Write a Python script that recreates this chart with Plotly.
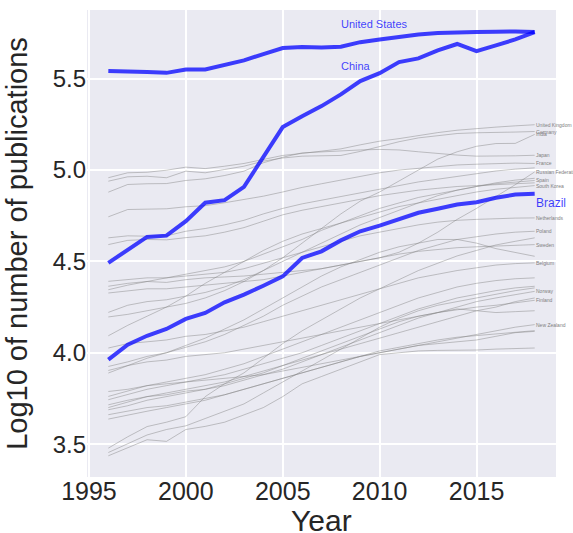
import plotly.graph_objects as go

years = list(range(1996, 2019))

united_states = [5.542, 5.542, 5.537, 5.532, 5.550, 5.550, 5.575, 5.600, 5.635, 5.668, 5.673, 5.671,
                 5.675, 5.700, 5.715, 5.730, 5.742, 5.750, 5.755, 5.755, 5.757, 5.759, 5.755]
china = [4.492, 4.565, 4.634, 4.641, 4.720, 4.821, 4.835, 4.908, 5.067, 5.235, 5.295, 5.350,
         5.414, 5.487, 5.530, 5.591, 5.611, 5.655, 5.690, 5.651, 5.682, 5.715, 5.755]
brazil = [3.962, 4.044, 4.093, 4.130, 4.185, 4.218, 4.276, 4.318, 4.367, 4.418, 4.519, 4.555,
          4.615, 4.665, 4.696, 4.729, 4.766, 4.788, 4.811, 4.824, 4.848, 4.866, 4.870]

united_kingdom = [4.958, 4.985, 4.988, 4.999, 5.016, 5.008, 5.021, 5.036, 5.058, 5.080, 5.091, 5.102,
                  5.116, 5.138, 5.158, 5.172, 5.189, 5.205, 5.218, 5.228, 5.235, 5.242, 5.248]
germany = [4.939, 4.963, 4.966, 4.958, 4.994, 4.985, 5.003, 5.021, 5.049, 5.066, 5.076, 5.078,
           5.080, 5.102, 5.130, 5.155, 5.176, 5.190, 5.200, 5.204, 5.204, 5.208, 5.211]
india = [4.196, 4.210, 4.230, 4.250, 4.270, 4.300, 4.340, 4.390, 4.450, 4.520, 4.600, 4.680,
         4.760, 4.830, 4.880, 4.940, 5.000, 5.060, 5.100, 5.130, 5.145, 5.146, 5.195]
japan = [4.879, 4.921, 4.925, 4.926, 4.943, 4.952, 4.970, 4.994, 5.040, 5.070, 5.094, 5.100,
         5.105, 5.110, 5.113, 5.110, 5.100, 5.090, 5.082, 5.076, 5.075, 5.078, 5.081]
france = [4.744, 4.784, 4.786, 4.788, 4.799, 4.805, 4.821, 4.838, 4.857, 4.880, 4.905, 4.925,
          4.945, 4.965, 4.985, 5.000, 5.010, 5.020, 5.028, 5.032, 5.036, 5.038, 5.036]
italy = [4.629, 4.640, 4.638, 4.640, 4.665, 4.680, 4.700, 4.725, 4.760, 4.790, 4.815, 4.835,
         4.855, 4.875, 4.895, 4.915, 4.935, 4.950, 4.965, 4.980, 4.995, 5.005, 5.012]
canada = [4.592, 4.615, 4.620, 4.618, 4.630, 4.640, 4.660, 4.685, 4.720, 4.755, 4.780, 4.800,
          4.820, 4.840, 4.860, 4.875, 4.890, 4.900, 4.910, 4.915, 4.920, 4.925, 4.930]
russian_federation = [4.364, 4.380, 4.390, 4.385, 4.400, 4.410, 4.415, 4.420, 4.430, 4.440, 4.450, 4.460,
                      4.480, 4.500, 4.520, 4.550, 4.600, 4.660, 4.730, 4.790, 4.855, 4.920, 4.990]
spain = [4.345, 4.370, 4.390, 4.410, 4.430, 4.450, 4.470, 4.500, 4.540, 4.580, 4.620, 4.670,
         4.710, 4.750, 4.790, 4.820, 4.850, 4.870, 4.890, 4.910, 4.925, 4.935, 4.943]
australia = [4.221, 4.260, 4.280, 4.290, 4.310, 4.330, 4.360, 4.400, 4.450, 4.500, 4.550, 4.600,
             4.650, 4.700, 4.740, 4.780, 4.820, 4.860, 4.890, 4.910, 4.930, 4.945, 4.955]
south_korea = [4.093, 4.150, 4.200, 4.250, 4.310, 4.380, 4.440, 4.500, 4.560, 4.610, 4.650, 4.680,
               4.710, 4.740, 4.770, 4.800, 4.820, 4.840, 4.860, 4.880, 4.895, 4.905, 4.915]
netherlands = [4.391, 4.400, 4.410, 4.410, 4.420, 4.430, 4.440, 4.460, 4.490, 4.520, 4.550, 4.580,
               4.610, 4.640, 4.660, 4.680, 4.700, 4.715, 4.725, 4.730, 4.735, 4.737, 4.738]
poland = [3.925, 3.950, 3.980, 4.000, 4.030, 4.060, 4.100, 4.150, 4.200, 4.260, 4.310, 4.360,
          4.400, 4.440, 4.480, 4.520, 4.560, 4.590, 4.620, 4.635, 4.650, 4.660, 4.665]
turkey = [3.478, 3.540, 3.596, 3.620, 3.650, 3.760, 3.830, 3.890, 3.970, 4.050, 4.120, 4.180,
          4.240, 4.300, 4.350, 4.400, 4.450, 4.490, 4.530, 4.560, 4.590, 4.610, 4.629]
sweden = [4.327, 4.340, 4.350, 4.350, 4.360, 4.370, 4.380, 4.390, 4.400, 4.420, 4.440, 4.460,
          4.480, 4.500, 4.520, 4.540, 4.555, 4.565, 4.575, 4.580, 4.585, 4.590, 4.592]
taiwan = [3.889, 3.930, 3.970, 4.000, 4.040, 4.080, 4.130, 4.180, 4.240, 4.300, 4.360, 4.420,
          4.470, 4.510, 4.550, 4.580, 4.600, 4.620, 4.620, 4.600, 4.570, 4.550, 4.528]
belgium = [4.026, 4.050, 4.060, 4.070, 4.090, 4.100, 4.120, 4.140, 4.170, 4.200, 4.230, 4.260,
           4.290, 4.320, 4.350, 4.380, 4.410, 4.430, 4.450, 4.465, 4.480, 4.488, 4.492]
denmark = [3.761, 3.790, 3.820, 3.840, 3.860, 3.880, 3.910, 3.940, 3.980, 4.020, 4.060, 4.100,
           4.140, 4.180, 4.220, 4.260, 4.300, 4.330, 4.360, 4.380, 4.395, 4.405, 4.410]
austria = [3.743, 3.770, 3.800, 3.820, 3.840, 3.860, 3.880, 3.910, 3.940, 3.970, 4.000, 4.040,
           4.080, 4.120, 4.160, 4.200, 4.240, 4.270, 4.300, 4.320, 4.340, 4.355, 4.364]
portugal = [3.454, 3.500, 3.550, 3.580, 3.600, 3.640, 3.680, 3.720, 3.780, 3.840, 3.900, 3.960,
            4.020, 4.080, 4.140, 4.190, 4.230, 4.260, 4.280, 4.300, 4.320, 4.340, 4.355]
norway = [3.715, 3.740, 3.760, 3.770, 3.790, 3.800, 3.820, 3.850, 3.880, 3.910, 3.950, 3.990,
          4.030, 4.070, 4.110, 4.150, 4.190, 4.220, 4.250, 4.280, 4.300, 4.320, 4.336]
israel = [3.700, 3.730, 3.760, 3.780, 3.800, 3.820, 3.840, 3.870, 3.900, 3.930, 3.960, 3.990,
          4.020, 4.050, 4.080, 4.110, 4.140, 4.170, 4.200, 4.230, 4.250, 4.280, 4.300]
finland = [3.903, 3.930, 3.950, 3.960, 3.980, 3.990, 4.000, 4.020, 4.040, 4.060, 4.080, 4.100,
           4.120, 4.140, 4.160, 4.180, 4.200, 4.220, 4.235, 4.250, 4.260, 4.275, 4.287]
greece = [3.688, 3.710, 3.740, 3.760, 3.780, 3.800, 3.830, 3.860, 3.890, 3.930, 3.970, 4.010,
          4.050, 4.090, 4.130, 4.170, 4.200, 4.220, 4.240, 4.230, 4.220, 4.225, 4.230]
new_zealand = [3.661, 3.680, 3.700, 3.710, 3.730, 3.750, 3.770, 3.800, 3.830, 3.860, 3.890, 3.920,
               3.950, 3.980, 4.000, 4.020, 4.040, 4.060, 4.080, 4.100, 4.120, 4.140, 4.154]
ireland = [3.637, 3.660, 3.680, 3.700, 3.720, 3.740, 3.770, 3.800, 3.830, 3.860, 3.890, 3.920,
           3.950, 3.980, 4.010, 4.030, 4.050, 4.070, 4.085, 4.095, 4.105, 4.115, 4.121]
mexico = [3.788, 3.800, 3.820, 3.830, 3.840, 3.850, 3.860, 3.870, 3.880, 3.900, 3.920, 3.940,
          3.960, 3.980, 4.000, 4.020, 4.040, 4.050, 4.060, 4.070, 4.090, 4.110, 4.117]
argentina = [3.436, 3.480, 3.524, 3.515, 3.580, 3.597, 3.620, 3.660, 3.700, 3.760, 3.830, 3.870,
             3.910, 3.950, 3.990, 4.000, 4.010, 4.013, 4.013, 4.015, 4.020, 4.023, 4.026]

# (series, end label or None)
gray_series = [
    (united_kingdom, "United Kingdom"), (germany, "Germany"), (india, "India"),
    (japan, "Japan"), (france, "France"), (italy, None), (canada, None),
    (russian_federation, "Russian Federation"), (spain, "Spain"), (australia, None),
    (south_korea, "South Korea"), (netherlands, "Netherlands"), (poland, "Poland"),
    (turkey, None), (sweden, "Sweden"), (taiwan, None), (belgium, "Belgium"),
    (denmark, None), (austria, None), (portugal, None), (norway, "Norway"),
    (israel, None), (finland, "Finland"), (greece, None), (new_zealand, "New Zealand"),
    (ireland, None), (mexico, None), (argentina, None),
]

BLUE = "rgba(0,0,255,0.75)"
GRAY = "rgba(128,128,128,0.45)"
TXT = "#262626"
FONT = "Liberation Sans, Arial, sans-serif"

fig = go.Figure()
annotations = []

for vals, name in gray_series:
    fig.add_trace(go.Scatter(x=years, y=vals, mode="lines",
                             line=dict(color=GRAY, width=1), showlegend=False,
                             hoverinfo="skip"))
    if name:
        annotations.append(dict(x=years[-1], y=vals[-1], text=name, showarrow=False,
                                xanchor="left", yanchor="middle", xshift=-1,
                                font=dict(size=5, color="#808080", family=FONT)))

for vals in (united_states, china, brazil):
    fig.add_trace(go.Scatter(x=years, y=vals, mode="lines",
                             line=dict(color=BLUE, width=4), showlegend=False,
                             hoverinfo="skip"))

annotations.append(dict(x=2008, y=5.754, text="United States", showarrow=False,
                        xanchor="left", yanchor="bottom", xshift=-2,
                        font=dict(size=11, color=BLUE, family=FONT)))
annotations.append(dict(x=2008, y=5.524, text="China", showarrow=False,
                        xanchor="left", yanchor="bottom", xshift=-2,
                        font=dict(size=11, color=BLUE, family=FONT)))
annotations.append(dict(x=years[-1], y=brazil[-1], text="Brazil", showarrow=False,
                        xanchor="left", yanchor="top", xshift=-1,
                        font=dict(size=12, color=BLUE, family=FONT)))
# x axis title
annotations.append(dict(x=0.5, y=-0.094, xref="paper", yref="paper", text="Year",
                        showarrow=False, xanchor="center", yanchor="middle",
                        font=dict(size=30, color=TXT, family=FONT)))

fig.update_layout(
    width=573, height=533,
    margin=dict(l=87, r=17, t=10, b=56, autoexpand=False),
    paper_bgcolor="white",
    plot_bgcolor="#EAEAF2",
    font=dict(family=FONT, color=TXT),
    annotations=annotations,
    xaxis=dict(range=[1994.9, 2019.1], tickvals=[1995, 2000, 2005, 2010, 2015],
               automargin=False,
               showgrid=True, gridcolor="white", gridwidth=1.5, zeroline=False,
               showline=False, ticks="", ticklabelstandoff=-3,
               tickfont=dict(size=25, color=TXT)),
    yaxis=dict(range=[3.32, 5.876], tickvals=[3.5, 4.0, 4.5, 5.0, 5.5],
               ticktext=["3.5", "4.0", "4.5", "5.0", "5.5"],
               automargin=False,
               showgrid=True, gridcolor="white", gridwidth=1.5, zeroline=False,
               showline=False, ticks="",
               tickfont=dict(size=24, color=TXT),
               title=dict(text="Log10 of number of publications",
                          font=dict(size=29, color=TXT), standoff=16)),
)

fig.write_html("out.html", config={"displayModeBar": False},
               post_script="document.body.style.margin='0';document.body.style.overflow='hidden';")
